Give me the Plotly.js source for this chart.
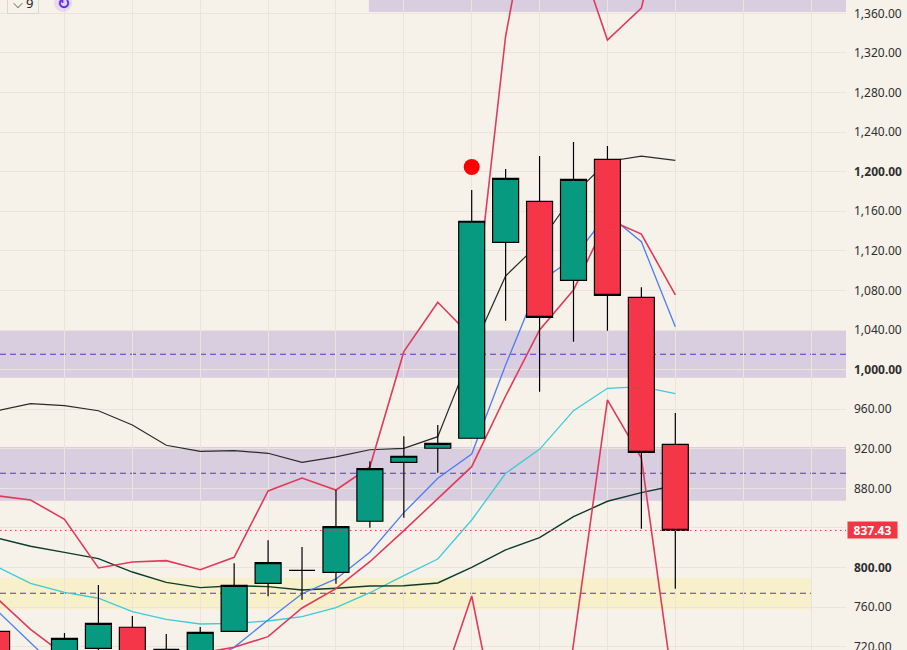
<!DOCTYPE html>
<html>
<head>
<meta charset="utf-8">
<script src="https://cdn.plot.ly/plotly-3.0.1.min.js"></script>
<style>
  html, body { margin: 0; padding: 0; background: #f6f2ea; overflow: hidden; }
  #chart { width: 907px; height: 650px; }
</style>
</head>
<body>
<div id="chart"></div>
<script>
// bar numbers, 0 sits on the first vertical grid line on screen
const bars = [-2, -1, 0, 1, 2, 3, 4, 5, 6, 7, 8, 9, 10, 11, 12, 13, 14, 15, 16, 17, 18];

const open = [735.5, 700, 700, 718.3, 739.6, 717.3, 700, 735.5, 784, 797, 795.1, 846.7, 906.3, 920.5, 930.6, 1128.6, 1170, 1090.2, 1212.5, 1073, 924.5];
const high = [735.5, 712, 733.8, 782.3, 751, 732.8, 739.9, 804.2, 827.5, 820.7, 878.3, 907.3, 932.6, 944, 1181.5, 1202.7, 1215.9, 1230, 1226, 1083.2, 956.1];
const low = [690, 680, 695, 715, 695, 700, 695, 735.5, 770.9, 767.5, 783.6, 840.2, 850.3, 895.8, 930.6, 1049.4, 977.7, 1028.2, 1039.3, 839.2, 778.6];
const close = [690, 690, 728.4, 743.6, 700, 717.3, 734.5, 782, 804.9, 797, 841.2, 899.9, 912.4, 925.5, 1149.9, 1193.3, 1052.8, 1192.3, 1075, 916.4, 837.43];

const upperBlack = [958.4, 965.5, 963.5, 958.4, 944, 923.5, 917.4, 918, 915.4, 906.3, 911.7, 919, 920.4, 932.2, 1018.3, 1094.6, 1127.9, 1176.9, 1210.3, 1215.8, 1211.5];
const upperRed = [872.6, 868.2, 848.7, 799.5, 805.5, 806.9, 797.8, 810.3, 877.3, 890.4, 878.3, 901.6, 1018.1, 1068, 1032.9, 1337.1, 1520, 1434, 1333.1, 1365.4, 1505];
const midRed = [769.2, 737.5, 711.6, 698.4, 694.4, 701.5, 713.6, 719.3, 730.1, 759.1, 778.6, 805.8, 837.2, 869.2, 901.9, 973.3, 1040, 1080.4, 1152.2, 1137, 1075.4];
const blue = [757, 724, 691, 666, 661, 676, 701.5, 719.3, 746.9, 773.5, 788.4, 815.4, 855.4, 890.1, 914.7, 1004.6, 1088.5, 1112.8, 1157.2, 1129.2, 1043.3];
const cyan = [800.9, 784, 774.9, 768.9, 755.3, 747.6, 742.9, 743.6, 745.9, 750.3, 759.4, 774.5, 791.7, 808.6, 848, 895.2, 919.4, 958.5, 981.1, 982.7, 975.6];
const darkGreen = [829.9, 821.4, 815.3, 808.9, 795.4, 785, 779.6, 781.6, 780.6, 777.2, 779, 781.3, 781.6, 784.3, 800.2, 817.7, 830.1, 851.3, 866.9, 875.6, 882.9];

const spikeBars = [11, 12, 13, 14, 15, 16, 17, 18];
const spikeRed = [669.6, 771.2, 600, 470, 722.7, 969.3, 910.6, 663];

const signalBar = [12];
const signalPrice = [1204.7];
const lastPrice = 837.43;

const tickVals = [720, 760, 800, 840, 880, 920, 960, 1000, 1040, 1080, 1120, 1160, 1200, 1240, 1280, 1320, 1360];
const tickText = ["720.00", "760.00", "<b>800.00</b>", "", "880.00", "920.00", "960.00", "<b>1,000.00</b>", "1,040.00", "1,080.00", "1,120.00", "1,160.00", "<b>1,200.00</b>", "1,240.00", "1,280.00", "1,320.00", "1,360.00"];

const xRange = [-1.9, 23.03];
const yRange = [716.6, 1373.5];

const purple = "rgba(126,87,194,0.24)";
const yellow = "rgba(255,235,59,0.18)";
const dashColor = "#5e35b8";
const redLine = "#e23a5b";

const zone = (x0, x1, y0, y1, color) => ({
  type: "rect", xref: "x", yref: "y", x0: x0, x1: x1, y0: y0, y1: y1,
  fillcolor: color, line: { width: 0 }, layer: "below",
});
const dashed = (x1, y) => ({
  type: "line", xref: "x", yref: "y", x0: xRange[0], x1: x1, y0: y, y1: y,
  line: { color: dashColor, width: 1.1, dash: "6px,4px" }, layer: "below",
});
const lineTrace = (x, y, color, width) => ({
  type: "scatter", mode: "lines", x: x, y: y, hoverinfo: "skip",
  line: { color: color, width: width },
});

const traces = [
  lineTrace(bars, upperBlack, "#2a2a2a", 1.2),
  lineTrace(bars, cyan, "#3fcbd6", 1.3),
  lineTrace(bars, darkGreen, "#0d3b2c", 1.4),
  lineTrace(bars, blue, "#4c7cf3", 1.3),
  lineTrace(bars, midRed, redLine, 1.6),
  lineTrace(bars, upperRed, redLine, 1.6),
  lineTrace(spikeBars, spikeRed, redLine, 1.6),
  {
    type: "scatter", mode: "markers", x: signalBar, y: signalPrice, hoverinfo: "skip",
    marker: { color: "#ff0000", size: 16 },
  },
  // second subplot so the candles stay on top of the lines
  {
    type: "candlestick", x: bars, open: open, high: high, low: low, close: close,
    xaxis: "x2", yaxis: "y2", whiskerwidth: 0, hoverinfo: "skip",
    increasing: { fillcolor: "#089981", line: { color: "#000000", width: 1.2 } },
    decreasing: { fillcolor: "#f43648", line: { color: "#000000", width: 1.2 } },
  },
];

const hiddenAxis = {
  showticklabels: false, ticks: "", showgrid: false, zeroline: false, showline: false,
};

const layout = {
  width: 907,
  height: 650,
  margin: { l: 0, r: 61, t: 0, b: 0, pad: 0 },
  paper_bgcolor: "#f6f2ea",
  plot_bgcolor: "#f6f2ea",
  showlegend: false,
  boxgap: 0.234,
  boxgroupgap: 0,
  font: { family: "'Noto Sans', sans-serif", size: 12, color: "#2e2e2e" },
  xaxis: {
    range: xRange, tick0: 0, dtick: 2, showticklabels: false, ticks: "",
    showgrid: true, gridcolor: "#e9e5dd", gridwidth: 1, zeroline: false, showline: false,
    rangeslider: { visible: false },
  },
  yaxis: {
    range: yRange, side: "right", tickmode: "array", tickvals: tickVals, ticktext: tickText,
    ticks: "", ticklabelstandoff: 7, ticklabeloverflow: "allow", showgrid: true, gridcolor: "#e9e5dd", gridwidth: 1,
    zeroline: false, showline: false, tickfont: { size: 12, color: "#2e2e2e" },
  },
  xaxis2: { ...hiddenAxis, range: xRange, overlaying: "x", anchor: "y2", rangeslider: { visible: false } },
  yaxis2: { ...hiddenAxis, range: yRange, overlaying: "y", anchor: "x2" },
  shapes: [
    zone(8.97, xRange[1], 1361.4, 1400, purple),
    zone(xRange[0], xRange[1], 991.8, 1039, purple),
    zone(xRange[0], xRange[1], 867.5, 921.8, purple),
    zone(xRange[0], 22, 757.8, 789.7, yellow),
    dashed(xRange[1], 1015.5),
    dashed(xRange[1], 895.2),
    dashed(22, 773.9),
    {
      type: "line", xref: "paper", yref: "y", x0: 0, x1: 1, y0: lastPrice, y1: lastPrice,
      line: { color: "#f23645", width: 1, dash: "1.5px,3.5px" }, layer: "above",
    },
    {
      type: "circle", xref: "paper", yref: "paper", xsizemode: "pixel", ysizemode: "pixel",
      xanchor: 63 / 846, yanchor: 1 - 3 / 650, x0: -9, x1: 9, y0: -9, y1: 9,
      fillcolor: "rgba(123,63,242,0.12)", line: { width: 0 }, layer: "above",
    },
  ],
  annotations: [
    {
      xref: "paper", yref: "y", x: 1, y: lastPrice, xanchor: "left", yanchor: "middle", xshift: 1,
      text: "<b>837.43</b>", showarrow: false, bgcolor: "#f23645", borderpad: 2, width: 45, height: 12,
      font: { family: "'Noto Sans', sans-serif", size: 12, color: "#ffffff" },
    },
    {
      xref: "paper", yref: "paper", x: 0, y: 1, xanchor: "left", yanchor: "middle", xshift: 7, yshift: -3,
      text: "⌵ 9", showarrow: false, bordercolor: "#dcd8d0", borderwidth: 1, borderpad: 1, width: 28,
      font: { family: "'Noto Sans', sans-serif", size: 13, color: "#222222" },
    },
    {
      xref: "paper", yref: "paper", x: 0, y: 1, xanchor: "center", yanchor: "middle", xshift: 63, yshift: -3,
      text: "<b>↻</b>", showarrow: false,
      font: { family: "'DejaVu Sans', sans-serif", size: 16, color: "#6a2cf5" },
    },
  ],
};

Plotly.newPlot("chart", traces, layout, { staticPlot: true, displayModeBar: false });
</script>
</body>
</html>
